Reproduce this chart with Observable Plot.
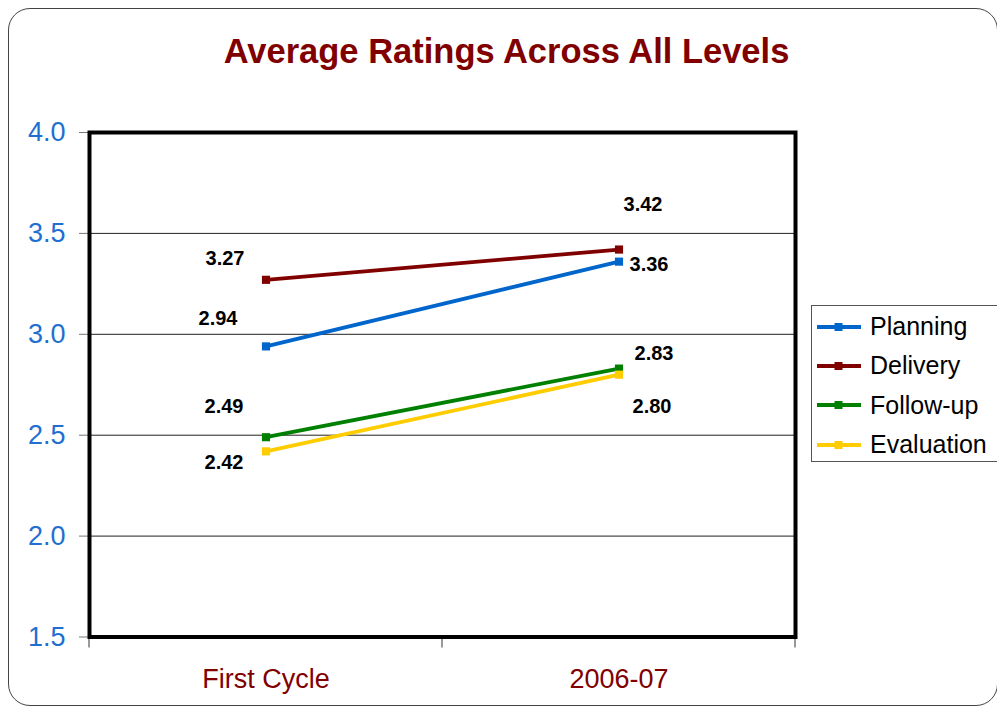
<!DOCTYPE html>
<html>
<head>
<meta charset="utf-8">
<script src="https://cdn.jsdelivr.net/npm/d3@7"></script>
<script src="https://cdn.jsdelivr.net/npm/@observablehq/plot@0.6"></script>
<style>
  body { margin: 0; background: #fff; font-family: "Liberation Sans", Arial, sans-serif; }
  #wrap { position: relative; width: 997px; height: 708px; overflow: hidden; }
  #frame { position: absolute; left: 8px; top: 8px; width: 990px; height: 698px; border: 1.5px solid #444; border-radius: 22px; box-sizing: border-box; pointer-events: none; }
  #title { height: 100px; box-sizing: border-box; padding-top: 34px; padding-left: 16px; text-align: center; font-size: 34.5px; line-height: 34px; font-weight: bold; color: #800000; }
  #legend { position: absolute; left: 811px; top: 305px; width: 190px; height: 157px; border: 1px solid #555; box-sizing: border-box; padding-top: 1px; background: #fff; }
  .row { height: 39.3px; display: flex; align-items: center; padding-left: 5px; font-size: 25px; color: #000; }
  .row svg { margin-right: 9px; }
</style>
</head>
<body>
<div id="wrap">
  <div id="title">Average Ratings Across All Levels</div>
  <div id="chart"></div>
  <div id="legend"></div>
  <div id="frame"></div>
</div>
<script>
// ---- data ----
const periods = ["First Cycle", "2006-07"];
const seriesNames = ["Planning", "Delivery", "Follow-up", "Evaluation"];
const planning = [2.94, 3.36];
const delivery = [3.27, 3.42];
const followUp = [2.49, 2.83];
const evaluation = [2.42, 2.80];
const yTicks = [1.5, 2.0, 2.5, 3.0, 3.5, 4.0];
const gridTicks = [2.0, 2.5, 3.0, 3.5];
const title = "Average Ratings Across All Levels";

// ---- styles ----
const seriesColors = ["#0066CC", "#800000", "#008000", "#FFCC00"];
// label offsets (dx, dy) per series, per period
const labelOffsets = {
  "Planning":   [[-48, -28], [30, 3]],
  "Delivery":   [[-41, -21], [24, -45]],
  "Follow-up":  [[-42, -31], [35, -15]],
  "Evaluation": [[-42, 11], [33, 32]]
};

const seriesValues = [planning, delivery, followUp, evaluation];
const rows = seriesNames.flatMap((s, i) =>
  periods.map((p, j) => ({series: s, period: p, value: seriesValues[i][j], j}))
);

function boundaryTicks() {
  return (index, scales, values, dims) => {
    const x = scales.x;
    const bw = x.bandwidth();
    const dom = x.domain();
    const bounds = dom.map(d => x(d)).concat([x(dom[dom.length - 1]) + bw]);
    const g = document.createElementNS("http://www.w3.org/2000/svg", "g");
    const y0 = dims.height - dims.marginBottom;
    for (const b of bounds) {
      const l = document.createElementNS("http://www.w3.org/2000/svg", "line");
      l.setAttribute("x1", b); l.setAttribute("x2", b);
      l.setAttribute("y1", y0); l.setAttribute("y2", y0 + 11);
      l.setAttribute("stroke", "#777"); l.setAttribute("stroke-width", "1.5");
      g.appendChild(l);
    }
    return g;
  };
}

const labelMarks = rows.map(r => Plot.text([r], {
  x: "period", y: "value", text: d => d3.format(".2f")(d.value),
  dx: labelOffsets[r.series][r.j][0], dy: labelOffsets[r.series][r.j][1],
  fontSize: 20, fontWeight: "bold", fill: "#000"
}));

const chart = Plot.plot({
  width: 997,
  height: 608,
  marginTop: 32,
  marginBottom: 71.5,
  marginLeft: 89,
  marginRight: 202,
  style: { fontFamily: "Liberation Sans, Arial, sans-serif", background: "transparent", overflow: "visible" },
  x: { type: "band", domain: periods, padding: 0 },
  y: { domain: [1.5, 4.0] },
  color: { domain: seriesNames, range: seriesColors },
  marks: [
    Plot.gridY(gridTicks, { stroke: "#222", strokeOpacity: 1, strokeWidth: 1 }),
    Plot.axisY({ ticks: yTicks, tickFormat: d3.format(".1f"), tickSize: 10, tickPadding: 14, fontSize: 27, stroke: "#777", fill: "#1f6fd1", label: null }),
    Plot.axisX({ tickSize: 0, tickPadding: 31.5, fontSize: 27, fill: "#800000", label: null }),
    boundaryTicks(),
    Plot.line(rows, { x: "period", y: "value", z: "series", stroke: "series", strokeWidth: 3.8 }),
    Plot.dot(rows, { x: "period", y: "value", fill: "series", symbol: "square", r: 4.6 }),
    ...labelMarks,
    Plot.frame({ stroke: "#000", strokeWidth: 4 })
  ]
});
document.getElementById("chart").appendChild(chart);

// legend
const legend = document.getElementById("legend");
seriesNames.forEach((s, i) => {
  const row = document.createElement("div");
  row.className = "row";
  row.innerHTML = `<svg width="44" height="12"><line x1="0" x2="44" y1="6" y2="6" stroke="${seriesColors[i]}" stroke-width="3.8"/><rect x="17.5" y="2" width="8" height="8" fill="${seriesColors[i]}"/></svg><span>${s}</span>`;
  legend.appendChild(row);
});
</script>
</body>
</html>
